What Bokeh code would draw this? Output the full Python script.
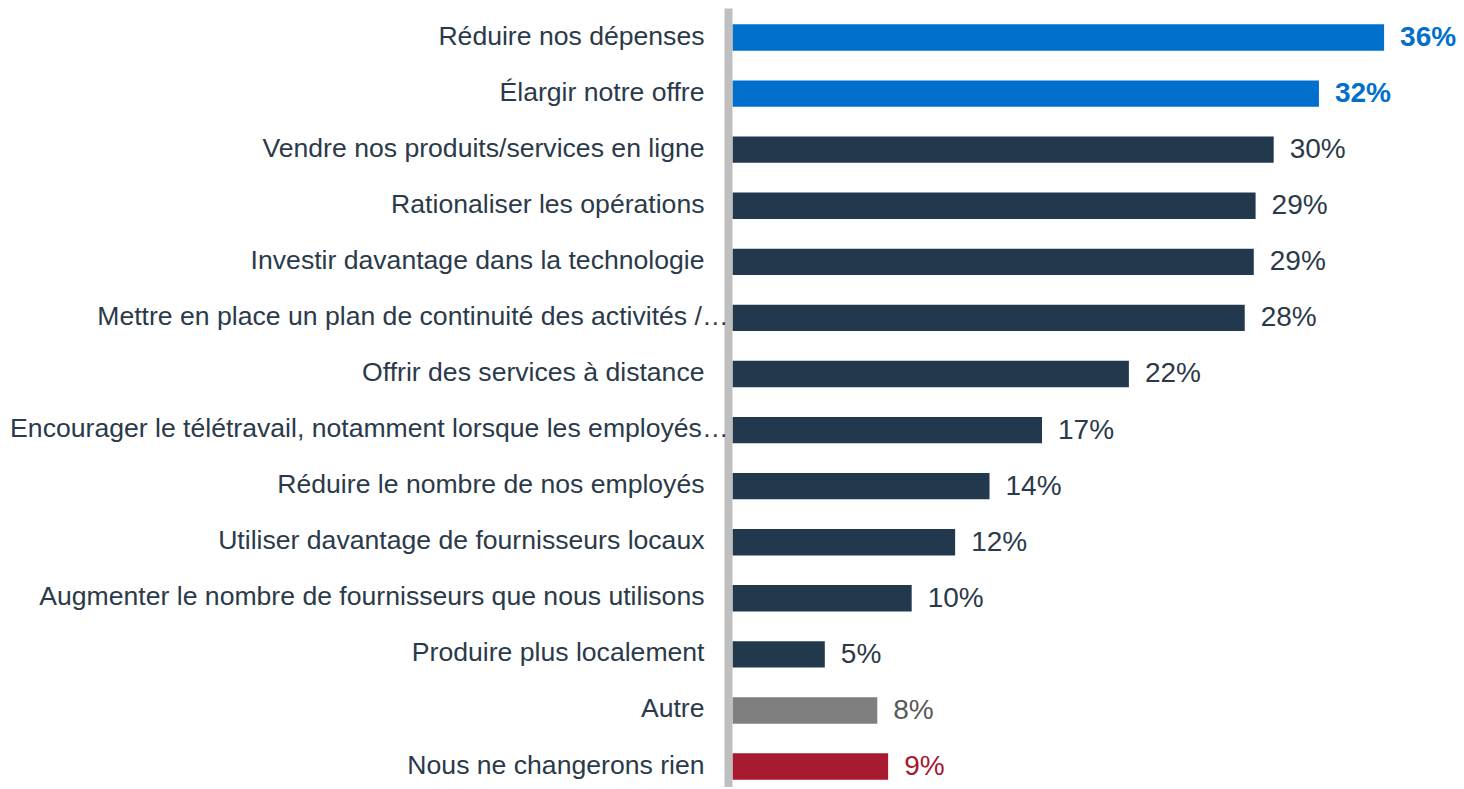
from bokeh.plotting import figure
from bokeh.models import ColumnDataSource, Range1d
from bokeh.core.properties import value
from bokeh.embed import file_html
from bokeh.resources import INLINE

categories = [
    "Réduire nos dépenses",
    "Élargir notre offre",
    "Vendre nos produits/services en ligne",
    "Rationaliser les opérations",
    "Investir davantage dans la technologie",
    "Mettre en place un plan de continuité des activités /…",
    "Offrir des services à distance",
    "Encourager le télétravail, notamment lorsque les employés…",
    "Réduire le nombre de nos employés",
    "Utiliser davantage de fournisseurs locaux",
    "Augmenter le nombre de fournisseurs que nous utilisons",
    "Produire plus localement",
    "Autre",
    "Nous ne changerons rien",
]
values = [36.0, 32.4, 29.9, 28.9, 28.8, 28.3, 21.9, 17.1, 14.2, 12.3, 9.9, 5.1, 8.0, 8.6]
value_labels = ["36%", "32%", "30%", "29%", "29%", "28%", "22%", "17%", "14%", "12%", "10%", "5%", "8%", "9%"]
groups = ["top", "top"] + ["main"] * 10 + ["other", "none"]

bar_colors = {"top": "#0070CC", "main": "#22384D", "other": "#7F7F7F", "none": "#A6192E"}
text_colors = {"top": "#0070CC", "main": "#2B3A4A", "other": "#595959", "none": "#A6192E"}
text_styles = {"top": "bold", "main": "normal", "other": "normal", "none": "normal"}

n = len(categories)
ys = list(range(n))
px_per = 18.1
pitch = 56.08
src = ColumnDataSource(dict(
    y=ys,
    v=values,
    cat=categories,
    lab=value_labels,
    bc=[bar_colors[g] for g in groups],
    tc=[text_colors[g] for g in groups],
    ts=[text_styles[g] for g in groups],
    lx=[-4 / px_per if c.endswith("…") else -28 / px_per for c in categories],
))

W, H = 1462, 787
x0 = 732
yt = 37
y_end = -yt / pitch
y_start = (H - yt) / pitch
p = figure(width=W, height=H, output_backend="svg", toolbar_location=None,
           x_range=Range1d(-x0 / px_per, (W - x0) / px_per),
           y_range=Range1d(y_start, y_end),
           min_border=0)
p.axis.visible = False
p.grid.visible = False
p.outline_line_color = None
p.background_fill_color = "white"

p.hbar(y="y", left=0, right="v", height=0.47, fill_color="bc", line_color=None, source=src)

# vertical axis line
p.segment(x0=[-4 / px_per], x1=[-4 / px_per], y0=[y_end + 8 / pitch], y1=[y_start + 5],
          line_color="#BFBFBF", line_width=8)

p.text(x="lx", y="y", text="cat", source=src, y_offset=-2, text_align="right", text_baseline="middle",
       text_font=value("Liberation Sans"), text_font_size="26.6px", text_color="#2B3A4A")
p.text(x="v", y="y", text="lab", source=src, x_offset=16, y_offset=-1, text_align="left",
       text_baseline="middle", text_font=value("Liberation Sans"), text_font_size="28px",
       text_color="tc", text_font_style="ts")

open("out.html", "w").write(file_html(p, INLINE))
